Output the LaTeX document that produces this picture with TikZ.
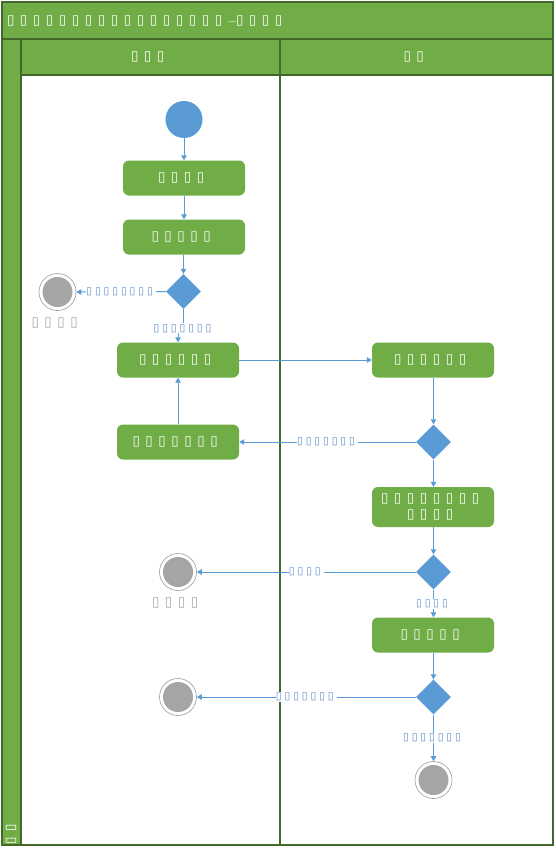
\documentclass[tikz,border=0pt]{standalone}
\usepackage{fontspec}
\newfontfamily\tofufont{DejaVu Sans}
\usetikzlibrary{arrows.meta,shapes.geometric}
\definecolor{grn}{HTML}{70AD47}
\definecolor{dgrn}{HTML}{43682B}
\definecolor{blu}{HTML}{5B9BD5}
\definecolor{gry}{HTML}{A5A5A5}
\definecolor{lbl}{HTML}{5B8CC8}
\newcommand\tcell[1]{\makebox[#1][l]{▯}}
\newcommand\TB{\tcell{13pt}}
\newcommand\tb{\tcell{8.67pt}}
\tikzset{
  lane/.style={draw=dgrn, line width=1.2pt},
  bigtxt/.style={font=\tofufont\fontsize{13.5}{16}\selectfont, inner sep=0pt},
  act/.style={rectangle, rounded corners=6pt, fill=grn, draw=none, inner sep=0pt,
    minimum width=122pt, minimum height=35pt, text=white, align=center,
    font=\tofufont\fontsize{13.5}{16}\selectfont},
  dec/.style={diamond, fill=blu, draw=none, minimum width=35pt, minimum height=35pt, inner sep=0pt},
  startn/.style={circle, fill=blu, draw=none, minimum size=37pt, inner sep=0pt},
  endn/.style={circle, minimum size=37pt, inner sep=0pt, draw=gry, line width=0.7pt,
    path picture={\fill[gry] (path picture bounding box.center) circle (15pt);}},
  arr/.style={draw=blu, line width=1pt, -{Triangle[length=5pt,width=5.5pt]}},
  elbl/.style={fill=white, inner sep=0pt, text=lbl, minimum height=10pt,
    font=\tofufont\fontsize{10.5}{11}\selectfont},
  endlbl/.style={inner sep=0pt, text=gry, font=\tofufont\fontsize{13.5}{16}\selectfont},
}
\begin{document}
\begin{tikzpicture}[x=1pt,y=-1pt]
\useasboundingbox (0,0) rectangle (555,848);
% swimlane pool
\fill[white] (2,2) rectangle (553,845);
\fill[grn] (2,2) rectangle (553,75);
\fill[grn] (2,2) rectangle (21,845);
\draw[lane] (2,2) rectangle (553,845);
\draw[lane] (2,39) -- (553,39);
\draw[lane] (21,75) -- (553,75);
\draw[lane] (21,39) -- (21,845);
\draw[lane] (280,39) -- (280,845);
% title and headers
\node[bigtxt, text=white, anchor=west] (title) at (6.8,20.5)
  {\TB\TB\TB\TB\TB\TB\TB\TB\TB\TB\TB\TB\TB\TB\TB\TB\TB\makebox[8pt][l]{\fontsize{8}{8}\selectfont —}\TB\TB\TB\TB};
\node[bigtxt, text=white] (h1) at (150.5,57) {\TB\TB\TB};
\node[bigtxt, text=white] (h2) at (416.5,57) {\TB\TB};
\node[bigtxt, text=white, rotate=90] (pool) at (11,831.5) {\TB\TB};
% nodes
\node[startn] (s) at (184,119.5) {};
\node[act] (b1) at (184,178) {\TB\TB\TB\TB};
\node[act] (b2) at (184,237) {\TB\TB\TB\TB\TB};
\node[dec] (d1) at (183.5,291.5) {};
\node[endn] (e1) at (57.5,292) {};
\node[endlbl] (e1l) at (57.5,322.7) {\TB\TB\TB\TB};
\node[act] (b3) at (178,360) {\TB\TB\TB\TB\TB\TB};
\node[act] (b4) at (433,360) {\TB\TB\TB\TB\TB\TB};
\node[dec] (d2) at (433.5,442) {};
\node[act] (b5) at (178,442) {\TB\TB\TB\TB\TB\TB\TB};
\node[act, minimum height=40pt] (b6) at (433,507) {\TB\TB\TB\TB\TB\TB\TB\TB\\\TB\TB\TB\TB};
\node[dec] (d3) at (433.5,572) {};
\node[endn] (e2) at (178,572) {};
\node[endlbl] (e2l) at (178,603) {\TB\TB\TB\TB};
\node[act] (b7) at (433,635) {\TB\TB\TB\TB\TB};
\node[dec] (d4) at (433.5,697) {};
\node[endn] (e3) at (178,697) {};
\node[endn] (e4) at (433.5,780) {};
% connectors
\draw[arr] (s) -- (b1);
\draw[arr] (b1) -- (b2);
\draw[arr] (b2.south -| d1.north) -- (d1.north);
\draw[arr] (d1.west) -- node[elbl] (l1) {\tb\tb\tb\tb\tb\tb\tb\tb} (e1.east);
\draw[arr] (d1.south) -- (d1.south |- 0,330) -- (b3.north |- 0,330) -- (b3.north);
\node[elbl] (l2) at (184,328.3) {\tb\tb\tb\tb\tb\tb\tb};
\draw[arr] (b3.east) -- (b4.west);
\draw[arr] (b4.south -| d2.north) -- (d2.north);
\draw[arr] (d2.west) -- node[elbl] (l3) {\tb\tb\tb\tb\tb\tb\tb} (b5.east);
\draw[arr] (b5.north) -- (b3.south);
\draw[arr] (d2.south) -- (d2.south |- b6.north);
\draw[arr] (b6.south -| d3.north) -- (d3.north);
\draw[arr] (d3.west) -- node[elbl] (l4) {\tb\tb\tb\tb} (e2.east);
\draw[arr] (d3.south) -- node[elbl] (l5) {\tb\tb\tb\tb} (d3.south |- b7.north);
\draw[arr] (b7.south -| d4.north) -- (d4.north);
\draw[arr] (d4.west) -- node[elbl] (l6) {\tb\tb\tb\tb\tb\tb\tb} (e3.east);
\draw[arr] (d4.south) -- node[elbl] (l7) {\tb\tb\tb\tb\tb\tb\tb} (e4.north);
\end{tikzpicture}
\end{document}
